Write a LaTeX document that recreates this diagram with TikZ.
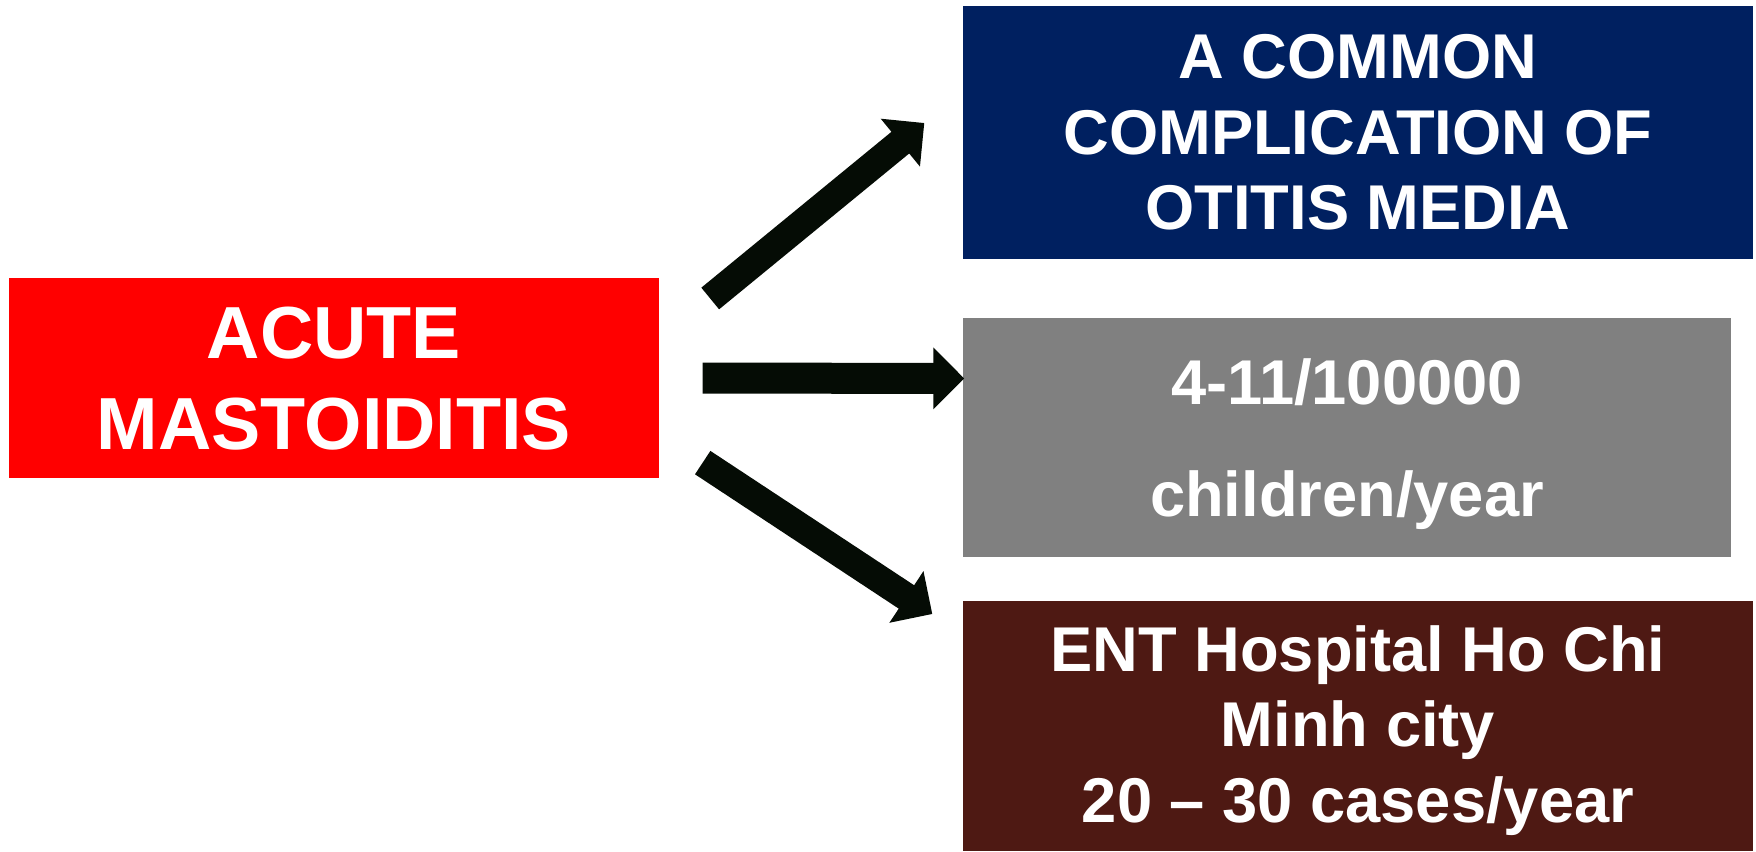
\documentclass[tikz,border=0pt]{standalone}
\usepackage{fontspec}
\setmainfont{Liberation Sans}
\usepackage{tikz}
\usetikzlibrary{arrows.meta, calc}
\definecolor{boxred}{RGB}{255,0,0}
\definecolor{boxblue}{RGB}{0,32,96}
\definecolor{boxgray}{RGB}{128,128,128}
\definecolor{boxbrown}{RGB}{78,25,19}
\definecolor{arrowblack}{RGB}{5,12,5}

\begin{document}
\begin{tikzpicture}[
  box/.style={inner sep=0pt, text=white, align=center,
    font=\bfseries\fontsize{18}{21.5}\selectfont},
  bigarrow/.style={line width=2.8mm, arrowblack,
    -{Triangle[length=3.1mm,width=6mm]}}
]
\useasboundingbox (0,0) rectangle (17.56,8.51);
\node[box, fill=boxred, minimum width=6.50cm, minimum height=2.00cm,
  text depth=-0.9mm, font=\bfseries\fontsize{21}{26}\selectfont]
  (acute) at (3.34,4.73) {ACUTE\\MASTOIDITIS};
\node[box, fill=boxblue, minimum width=7.90cm, minimum height=2.53cm]
  (common) at (13.58,7.185) {A COMMON\\COMPLICATION OF\\OTITIS MEDIA};
\node[box, fill=boxgray, minimum width=7.68cm, minimum height=2.39cm,
  text depth=-1.27mm] (incidence) at (13.47,4.135)
  {4-11/100000\\[3.6mm]children/year};
\node[box, fill=boxbrown, minimum width=7.90cm, minimum height=2.50cm,
  text depth=0.43mm] (hospital) at (13.58,1.25)
  {ENT Hospital Ho Chi\\Minh city\\20 -- 30 cases/year};
\path coordinate (upTail) at ($(acute.east)+(0.505,0.795)$)
      coordinate (upTip) at ($(common.west)+(-0.38,0.095)$)
      coordinate (midTail) at ($(acute.east)+(0.43,0)$)
      coordinate (midTip) at ($(incidence.west)+(0.02,0.59)$)
      coordinate (downTail) at ($(acute.east)+(0.43,-0.846)$)
      coordinate (downTip) at ($(hospital.west)+(-0.30,1.12)$);
\draw[bigarrow] (upTail) -- (upTip);
\draw[bigarrow, line width=3.1mm] (midTail) -- (midTip);
\draw[bigarrow] (downTail) -- (downTip);
\end{tikzpicture}
\end{document}
